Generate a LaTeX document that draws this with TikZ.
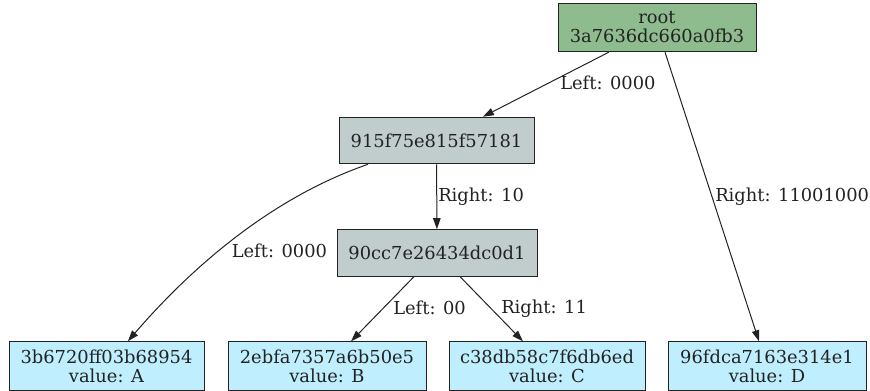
\documentclass[tikz,border=0pt]{standalone}
\usepackage{fontspec}
\setmainfont{DejaVu Serif}
\usetikzlibrary{arrows.meta}
\definecolor{rootfill}{HTML}{8FBC8F}
\definecolor{midfill}{HTML}{C1CDCD}
\definecolor{leaffill}{HTML}{BFEFFF}
\definecolor{ink}{HTML}{222222}
\begin{document}
\begin{tikzpicture}[x=0.75pt,y=-0.75pt,
  every node/.style={font=\fontsize{13.4pt}{14.25pt}\selectfont, text=ink},
  box/.style={draw=ink, line width=0.75pt, inner sep=0pt, align=center},
  rootbox/.style={box, fill=rootfill, minimum height=36.4pt},
  midbox/.style={box, fill=midfill, minimum height=34.9pt},
  leafbox/.style={box, fill=leaffill, minimum height=36.4pt},
  edge/.style={draw=ink, line width=0.75pt, -{Triangle[length=8.25pt,width=5.6pt]}},
  lbl/.style={inner sep=0pt, anchor=base west}]
\useasboundingbox (0,0) rectangle (870,391);
\node[rootbox, minimum width=148.5pt] (root) at (657,27.5) {root\\3a7636dc660a0fb3};
\node[midbox, minimum width=146.25pt] (n915) at (436.5,140.5) {915f75e815f57181};
\node[midbox, minimum width=150pt] (n90cc) at (437,253) {90cc7e26434dc0d1};
\node[leafbox, minimum width=146.25pt] (nA) at (106.5,366) {3b6720ff03b68954\\value: A};
\node[leafbox, minimum width=148.5pt] (nB) at (327,366) {2ebfa7357a6b50e5\\value: B};
\node[leafbox, minimum width=147pt] (nC) at (547,366) {c38db58c7f6db6ed\\value: C};
\node[leafbox, minimum width=148.5pt] (nD) at (767,366) {96fdca7163e314e1\\value: D};
\draw[edge] (root) -- (n915);
\draw[edge] (root) -- (nD);
\draw[edge] (n915) -- (n90cc);
\draw[edge] (n915) .. controls (265,200) and (185,275) .. (nA);
\draw[edge] (n90cc) -- (nB);
\draw[edge] (n90cc) -- (nC);
\node[lbl] (l1) at (560,89.5) {Left: 0000};
\node[lbl] (l2) at (715,201.5) {Right: 11001000};
\node[lbl] (l3) at (438,201.5) {Right: 10};
\node[lbl] (l4) at (231.5,258) {Left: 0000};
\node[lbl] (l5) at (393,314.5) {Left: 00};
\node[lbl] (l6) at (501,313.5) {Right: 11};
\end{tikzpicture}
\end{document}
